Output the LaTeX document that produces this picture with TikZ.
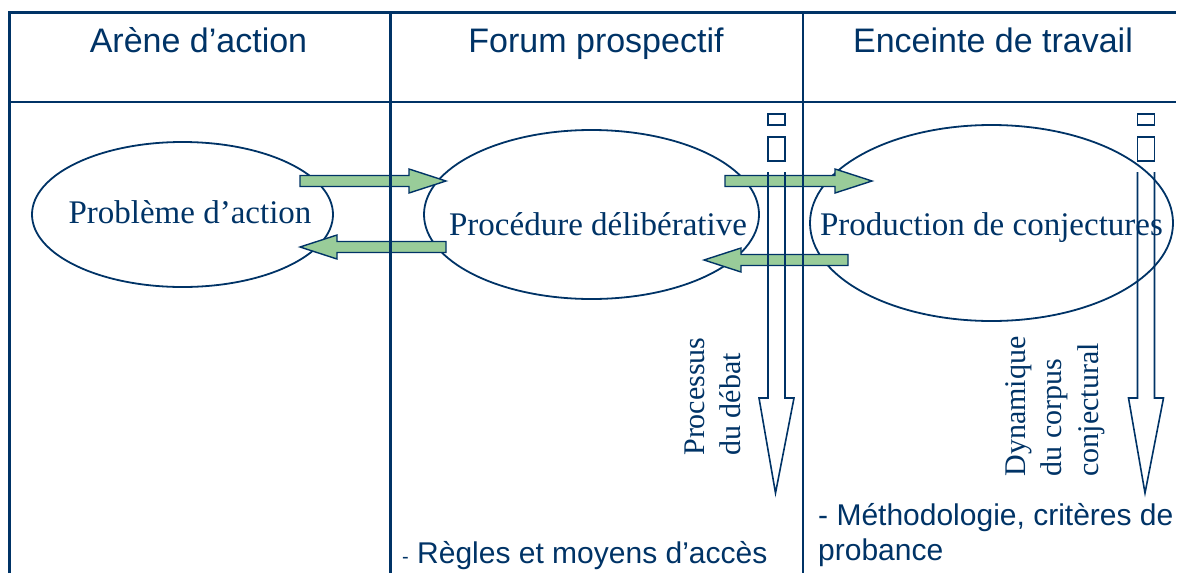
\documentclass[tikz,border=0pt]{standalone}
\usepackage{fontspec}
\setmainfont{Liberation Serif}
\setsansfont{Liberation Sans}
\usetikzlibrary{shapes.geometric}
\definecolor{deepblue}{RGB}{0,51,102}
\definecolor{arrowgreen}{RGB}{153,204,153}
\tikzset{
	frame/.style={deepblue, line width=3pt},
	grid/.style={deepblue, line width=2.5pt},
	oval/.style={ellipse, draw=deepblue, line width=1.8pt, inner sep=0pt},
	head/.style={font=\sffamily\fontsize{34}{40}\selectfont, text=deepblue, anchor=base, inner sep=0pt},
	ovaltext/.style={font=\fontsize{33}{40}\selectfont, text=deepblue, anchor=base, inner sep=0pt},
	sidetext/.style={font=\fontsize{30}{36.5}\selectfont, text=deepblue, rotate=90, align=left, inner sep=0pt},
	note/.style={font=\sffamily\fontsize{30}{35}\selectfont, text=deepblue, align=left, anchor=base west, inner sep=0pt},
	fatarrow/.pic={\filldraw[draw=deepblue, fill=arrowgreen, line width=1.4pt] (0,-5.5) -- (#1-37,-5.5) -- (#1-37,-12) -- (#1,0) -- (#1-37,12) -- (#1-37,5.5) -- (0,5.5) -- cycle;},
}
\begin{document}
\begin{tikzpicture}[x=1pt,y=-1pt]
	\useasboundingbox (0,0) rectangle (1182,573);
	% column titles
	\node[head] (arene) at (198.5,52) {Arène d’action};
	\node[head] (forum) at (596,52) {Forum prospectif};
	\node[head] (enceinte) at (993,52) {Enceinte de travail};
	% ovals
	\node[oval, minimum width=301pt, minimum height=145pt] (pb) at (182.5,214.5) {};
	\node[oval, minimum width=335pt, minimum height=169pt] (pd) at (591.5,214.5) {};
	\node[oval, minimum width=363pt, minimum height=196pt] (pc) at (991.5,223) {};
	\node[ovaltext] (pbt) at (190,223) {Problème d’action};
	\node[ovaltext] (pdt) at (598,235) {Procédure délibérative};
	\node[ovaltext] (pct) at (991.5,235) {Production de conjectures};
	% green arrows
	\pic at (300,181) {fatarrow=146};
	\pic[rotate=180] at (446,247) {fatarrow=146};
	\pic at (725,181) {fatarrow=147};
	\pic[rotate=180] at (848,260) {fatarrow=144};
	% open arrows going down
	\foreach \x in {776.5,1146}{
		\draw[deepblue, line width=1.5pt] (\x-8.5,114) rectangle (\x+8.5,125) (\x-8.5,137) rectangle (\x+8.5,161);
		\draw[deepblue, line width=1.6pt] (\x-8.5,172) -- (\x-8.5,398) -- (\x-17.5,398) -- (\x-1,493) -- (\x+17.5,398) -- (\x+8.5,398) -- (\x+8.5,172);
	}
	\node[sidetext] (debat) at (713,396.5) {Processus\\du débat};
	\node[sidetext] (corpus) at (1055,406.5) {Dynamique\\du corpus\\conjectural};
	% notes at the bottom
	\node[note] (regles) at (402,563) {{\fontsize{20}{24}\selectfont -} Règles et moyens d’accès};
	\node[note] (methodo) at (818,560) {- Méthodologie, critères de\\probance};
	% table lines
	\draw[grid] (9,102) -- (1176,102);
	\draw[grid] (390.7,12) -- (390.7,573) (803,12) -- (803,573);
	\draw[frame] (9,573) -- (9,12) -- (1176,12);
\end{tikzpicture}
\end{document}
